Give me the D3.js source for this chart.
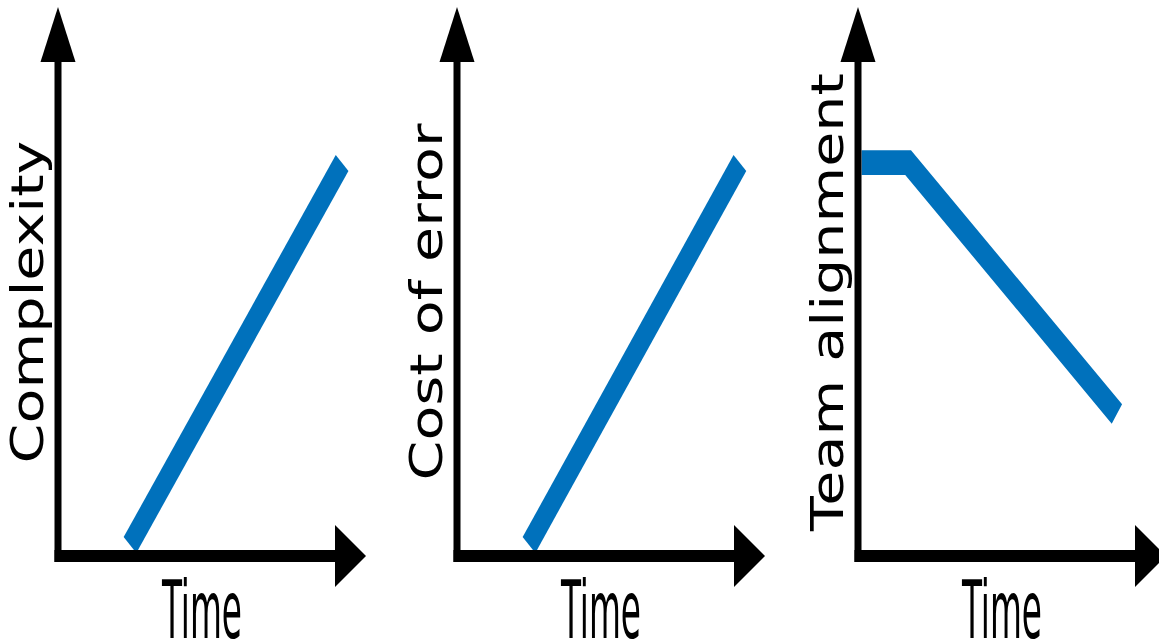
<!DOCTYPE html>
<html>
<head>
<meta charset="utf-8">
<script src="https://cdn.jsdelivr.net/npm/d3@7"></script>
<style>
  body { margin: 0; background: #fff; }
  svg { display: block; }
</style>
</head>
<body>
<div id="chart"></div>
<script>
// chart data
var yLabels = ["Complexity", "Cost of error", "Team alignment"];
var xLabel = "Time";
// [time, value] points, both on a 0-10 scale
var complexity = [[2.4, 0.22], [9.47, 7.86]];
var costOfError = [[2.4, 0.22], [9.43, 7.86]];
var teamAlignment = [[0.12, 7.87], [1.67, 7.87], [8.63, 2.84]];
var series = [complexity, costOfError, teamAlignment];

var width = 1159,
    height = 643,
    axisX = [58, 457, 858],   // left edge of each panel's plot
    baseY = 556,
    k = 1.5;                  // vertical stretch of the original drawing

var svg = d3.select("#chart").append("svg")
  .attr("width", width)
  .attr("height", height);

var blue = "#0071bc";

var y = d3.scaleLinear().domain([0, 10]).range([baseY, 56]);

series.forEach(function(data, i) {
  var x = d3.scaleLinear().domain([0, 10]).range([axisX[i], axisX[i] + 300]);
  var g = svg.append("g");

  // blue line, drawn in a stretched group so the stroke is thicker vertically
  var line = d3.line()
    .x(function(d) { return x(d[0]); })
    .y(function(d) { return (y(d[1]) - baseY) / k; });

  g.append("g")
    .attr("transform", "translate(0," + baseY + ") scale(1," + k + ")")
    .append("path")
    .datum(data)
    .attr("d", line)
    .attr("fill", "none")
    .attr("stroke", blue)
    .attr("stroke-width", 16.5)
    .attr("stroke-linejoin", "miter")
    .attr("stroke-linecap", "butt");

  var x0 = x.range()[0];

  // y axis with arrow
  g.append("line")
    .attr("x1", x0).attr("x2", x0)
    .attr("y1", 60).attr("y2", baseY + 6)
    .attr("stroke", "#000")
    .attr("stroke-width", 7);
  g.append("path")
    .attr("d", "M" + x0 + ",7 L" + (x0 + 17.5) + ",62 L" + (x0 - 17.5) + ",62 Z")
    .attr("fill", "#000");

  // x axis with arrow
  g.append("line")
    .attr("x1", x0 - 3.5).attr("x2", x0 + 279)
    .attr("y1", baseY).attr("y2", baseY)
    .attr("stroke", "#000")
    .attr("stroke-width", 12);
  g.append("path")
    .attr("d", "M" + (x0 + 308) + "," + baseY + " L" + (x0 + 277) + "," + (baseY - 31) +
               " L" + (x0 + 277) + "," + (baseY + 31) + " Z")
    .attr("fill", "#000");

  // x label
  g.append("text")
    .attr("x", x0 + 104)
    .attr("y", 638)
    .attr("font-family", "DejaVu Sans Condensed, DejaVu Sans")
    .attr("font-size", 80)
    .attr("textLength", 80)
    .attr("lengthAdjust", "spacingAndGlyphs")
    .text(xLabel);

  // y label, stretched along its length like the original
  var t = g.append("text")
    .attr("font-family", "DejaVu Sans")
    .attr("font-size", 45)
    .text(yLabels[i]);
  var len = t.node().getComputedTextLength() * 1.27;
  t.attr("textLength", len)
    .attr("lengthAdjust", "spacingAndGlyphs")
    .attr("transform", "translate(" + (x0 - 15) + "," + (302 + len / 2) + ") rotate(-90)");
});
</script>
</body>
</html>
